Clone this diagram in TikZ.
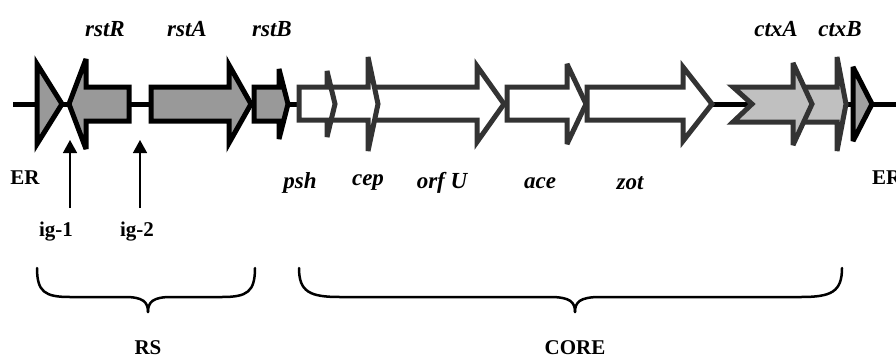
\documentclass[tikz,border=0pt]{standalone}
\usepackage{fontspec}
\setmainfont{Liberation Serif}
\usetikzlibrary{arrows.meta}
\definecolor{rsfill}{HTML}{999999}
\definecolor{corestroke}{HTML}{333333}
\definecolor{ctxfill}{HTML}{C0C0C0}
\definecolor{erfill}{HTML}{A0A0A0}
\tikzset{
  rsgene/.style={fill=rsfill,draw=black,line width=5pt,miter limit=4},
  coregene/.style={fill=white,draw=corestroke,line width=5pt,miter limit=4},
  ctxgene/.style={fill=ctxfill,draw=corestroke,line width=5pt,miter limit=4},
  ertri/.style={draw=black,line width=5pt,miter limit=4},
  backbone/.style={draw=black,line width=5pt},
  genelab/.style={font=\fontsize{23}{27}\selectfont\bfseries\itshape,inner sep=0pt},
  plainlab/.style={font=\fontsize{21}{25}\selectfont\bfseries,inner sep=0pt},
  igarrow/.style={draw=black,line width=1.5pt,-{Triangle[length=13pt,width=14pt]}},
  bracestyle/.style={draw=black,line width=2.5pt,line cap=round}
}
\begin{document}
\begin{tikzpicture}[x=1pt,y=-1pt]
\useasboundingbox (0,0) rectangle (896,362);
% backbone
\coordinate (bbL) at (13,104);
\coordinate (bbR) at (900,104);
\draw[backbone] (bbL) -- (bbR);
% ER left
\draw[ertri,fill=rsfill] (37,64) -- (62,104) -- (37,144) -- cycle;
% rstR (leftward)
\draw[rsgene] (129,87) -- (86,87) -- (86,59) -- (69,104) -- (86,149) -- (86,121) -- (129,121) -- cycle;
% rstB
\draw[rsgene] (254,87) -- (279,87) -- (279,69) -- (288,104) -- (279,139) -- (279,121) -- (254,121) -- cycle;
% rstA
\draw[rsgene] (151,87) -- (229,87) -- (229,65) -- (251,104) -- (229,143) -- (229,121) -- (151,121) -- cycle;
% core genes
\draw[coregene] (587,87) -- (683,87) -- (683,67) -- (712,104) -- (683,141) -- (683,120) -- (587,120) -- cycle;
\draw[coregene] (507,87) -- (567,87) -- (567,64) -- (586,104) -- (567,144) -- (567,120) -- (507,120) -- cycle;
\draw[coregene] (368,87) -- (477,87) -- (477,66) -- (504,104) -- (477,142) -- (477,120) -- (368,120) -- cycle;
\draw[coregene] (328,87) -- (368,87) -- (368,57) -- (378,104) -- (368,151) -- (368,120) -- (328,120) -- cycle;
\draw[coregene] (299,87) -- (327,87) -- (327,71) -- (335,104) -- (327,137) -- (327,120) -- (299,120) -- cycle;
% ctx genes
\draw[ctxgene] (793,87) -- (837,87) -- (837,57) -- (846,104) -- (837,151) -- (837,122) -- (793,122) -- cycle;
\draw[ctxgene] (733,87) -- (793,87) -- (793,63) -- (812,104) -- (793,145) -- (793,122) -- (733,122) -- (752,104) -- cycle;
% ER right
\draw[ertri,fill=erfill] (853,67) -- (872,104) -- (853,141) -- cycle;
% top labels
\node[genelab] (lrstR) at (105,29) {rstR};
\node[genelab] (lrstA) at (187,29) {rstA};
\node[genelab] (lrstB) at (272,29) {rstB};
\node[genelab] (lctxA) at (776,29) {ctxA};
\node[genelab] (lctxB) at (840,29) {ctxB};
% bottom labels
\node[genelab] (lpsh) at (300,183) {psh};
\node[genelab] (lcep) at (368,183) {cep};
\node[genelab] (lorfU) at (442,183) {orf U};
\node[genelab] (lace) at (540,183) {ace};
\node[genelab] (lzot) at (630,183) {zot};
\node[plainlab] (erL) at (25,178) {ER};
\node[plainlab,anchor=west] (erR) at (872,178) {ER};
% ig arrows
\node[plainlab] (ig1) at (56,232) {ig-1};
\node[plainlab] (ig2) at (137,232) {ig-2};
\coordinate (ig1top) at (70,140);
\coordinate (ig2top) at (140,140);
\coordinate (ig1bot) at (70,208);
\coordinate (ig2bot) at (140,208);
\draw[igarrow] (ig1bot) -- (ig1top);
\draw[igarrow] (ig2bot) -- (ig2top);
% braces
\coordinate (rsA) at (37,268);
\coordinate (rsTip) at (148,312);
\coordinate (rsB) at (255,268);
\draw[bracestyle] (rsA) .. controls (37,292) and (45,297) .. (70,297) -- (125,297) .. controls (143,297) and (148,302) .. (rsTip);
\draw[bracestyle] (rsB) .. controls (255,292) and (247,297) .. (222,297) -- (171,297) .. controls (153,297) and (148,302) .. (rsTip);
\coordinate (coA) at (299,268);
\coordinate (coTip) at (575,312);
\coordinate (coB) at (842,268);
\draw[bracestyle] (coA) .. controls (299,292) and (310,297) .. (340,297) -- (550,297) .. controls (570,297) and (575,302) .. (coTip);
\draw[bracestyle] (coB) .. controls (842,292) and (831,297) .. (801,297) -- (600,297) .. controls (580,297) and (575,302) .. (coTip);
\node[plainlab] (rs) at (148,348) {RS};
\node[plainlab] (core) at (575,348) {CORE};
\end{tikzpicture}
\end{document}
